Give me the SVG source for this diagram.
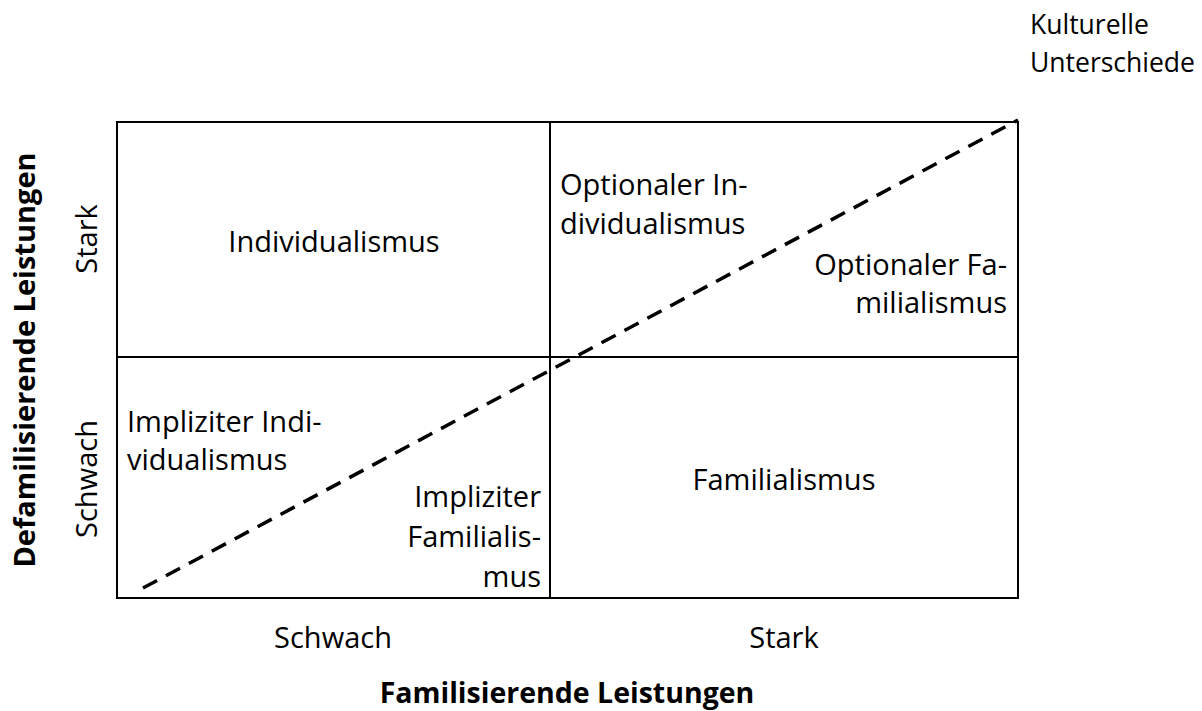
<svg xmlns="http://www.w3.org/2000/svg" width="1202" height="711" viewBox="0 0 1202 711">
<style>
text{font-family:"Open Sans","Noto Sans",sans-serif;font-size:29px;fill:#000}
.k{font-size:26.5px}
.b{font-weight:bold}
.m{text-anchor:middle}
.e{text-anchor:end}
.ln{stroke:#000;stroke-width:2;fill:none}
</style>
<rect width="1202" height="711" fill="#fff"/>
<g id="grid">
<rect class="ln" x="117" y="122" width="901" height="476"/>
<line class="ln" x1="550" y1="122" x2="550" y2="598"/>
<line class="ln" x1="117" y1="357" x2="1018" y2="357"/>
</g>
<g id="connectors">
<line x1="143" y1="588" x2="1018" y2="120" stroke="#000" stroke-width="3.5" stroke-dasharray="16,10"/>
</g>
<g id="culture"><text class="k" x="1030" y="34">Kulturelle</text><text class="k" x="1030" y="72">Unterschiede</text></g>
<g id="individualismus"><text class="m" x="334" y="252">Individualismus</text></g>
<g id="opt-ind"><text x="560" y="195">Optionaler In-</text><text x="560" y="234">dividualismus</text></g>
<g id="opt-fam"><text class="e" x="1007" y="275">Optionaler Fa-</text><text class="e" x="1007" y="313">milialismus</text></g>
<g id="impl-ind"><text x="127" y="432">Impliziter Indi-</text><text x="127" y="470">vidualismus</text></g>
<g id="impl-fam"><text class="e" x="541" y="507">Impliziter</text><text class="e" x="541" y="547">Familialis-</text><text class="e" x="541" y="587">mus</text></g>
<g id="familialismus"><text class="m" x="784" y="490">Familialismus</text></g>
<g id="x-axis"><text class="m" x="333" y="648">Schwach</text><text class="m" x="784" y="648">Stark</text><text class="m b" x="567" y="703" style="font-size:28.5px">Familisierende Leistungen</text></g>
<g id="y-axis"><text class="m" transform="translate(97,239) rotate(-90)">Stark</text><text class="m" transform="translate(97,479) rotate(-90)">Schwach</text><text class="m b" transform="translate(35,360) rotate(-90)">Defamilisierende Leistungen</text></g>
</svg>
